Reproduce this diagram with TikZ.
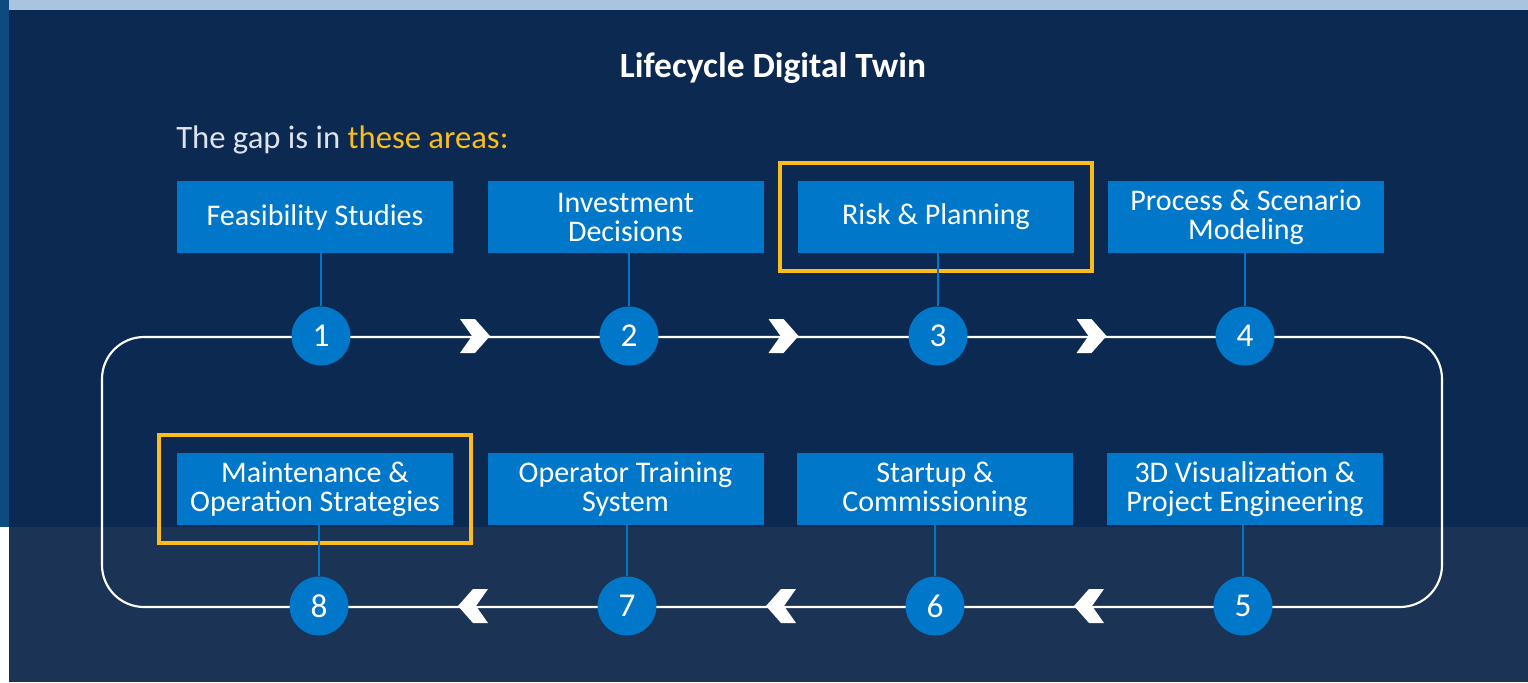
\documentclass[tikz,border=0pt]{standalone}
\usepackage{fontspec}
\setmainfont{Carlito}
\usetikzlibrary{fit,calc}

\definecolor{navy}{HTML}{0C2A51}
\definecolor{navylow}{HTML}{1B3355}
\definecolor{skystrip}{HTML}{A9C4DF}
\definecolor{sidestrip}{HTML}{0D4A80}
\definecolor{stepblue}{HTML}{0077C8}
\definecolor{gapyellow}{HTML}{FBBC1C}
\definecolor{softwhite}{HTML}{DDE3EC}

\tikzset{
  areabox/.style={fill=stepblue, text=white, minimum width=207pt, minimum height=54pt,
    inner sep=0pt, align=center, font=\fontsize{22.5}{21.75}\selectfont},
  stepdot/.style={circle, fill=stepblue, text=white, minimum size=44.25pt, inner sep=0pt,
    font=\fontsize{25}{25}\selectfont},
  gapframe/.style={draw=gapyellow, line width=3pt, inner sep=13.5pt},
  link/.style={draw=stepblue, line width=2pt},
  chevron/.pic={\fill[white] (-15,-17) -- (0,-17) -- (15,0) -- (0,17) -- (-15,17) -- (-3,0) -- cycle;}
}

\begin{document}
\begin{tikzpicture}[x=0.75pt,y=-0.75pt]

% background
\fill[white] (0,0) rectangle (1528,682);
\fill[navylow] (9,527) rectangle (1528,682);
\fill[navy] (9,10) rectangle (1528,527);
\fill[sidestrip] (0,0) rectangle (9,527);
\fill[skystrip] (9,0) rectangle (1528,10);
\useasboundingbox (0,0) rectangle (1528,682);

\node[text=white, font=\bfseries\fontsize{26.6}{28}\selectfont] (title) at (773,68) {Lifecycle Digital Twin};
\node[anchor=base west, inner sep=0pt, text=softwhite, font=\fontsize{24.5}{26}\selectfont] (gap) at (176,148)
  {The gap is in \textcolor{gapyellow}{these areas:}};

% loop
\draw[white, line width=1.6pt, rounded corners=31.5pt] (102,337) rectangle (1442,607);

% areas
\node[areabox] (f1) at (315,217) {Feasibility Studies};
\node[areabox] (f2) at (625.5,217) {Investment\\Decisions};
\node[areabox] (f3) at (936,217) {Risk \& Planning};
\node[areabox] (f4) at (1246,217) {Process \& Scenario\\Modeling};
\node[areabox] (f5) at (1245,489) {3D Visualization \&\\Project Engineering};
\node[areabox] (f6) at (935,489) {Startup \&\\Commissioning};
\node[areabox] (f7) at (625.5,489) {Operator Training\\System};
\node[areabox] (f8) at (315,489) {Maintenance \&\\Operation Strategies};

\node[gapframe, fit=(f3)] (g3) {};
\node[gapframe, fit=(f8)] (g8) {};

% steps
\foreach \i/\x in {1/321,2/629,3/938,4/1245}
    \node[stepdot] (c\i) at (\x,336) {\i};
\foreach \i/\x in {5/1243,6/935,7/627,8/319}
    \node[stepdot] (c\i) at (\x,606) {\i};

\foreach \i in {1,...,8}
    \draw[link] (c\i) -- (c\i |- f\i.south);

\foreach \a/\b in {1/2,2/3,3/4}
    \pic at ($(c\a)!0.5!(c\b)$) {chevron};
\foreach \a/\b in {5/6,6/7,7/8}
    \pic[rotate=180] at ($(c\a)!0.5!(c\b)$) {chevron};

\end{tikzpicture}
\end{document}
